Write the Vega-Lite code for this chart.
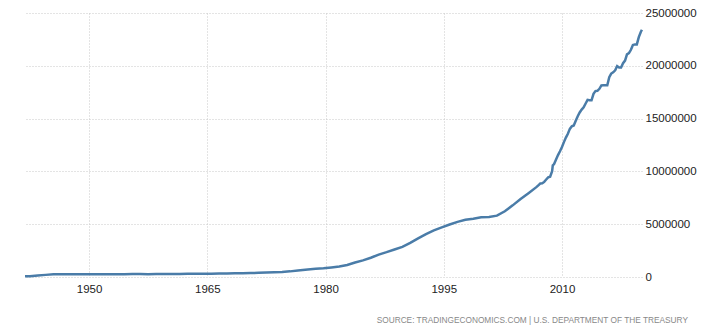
{
  "$schema": "https://vega.github.io/schema/vega-lite/v6.json",
  "width": 617,
  "height": 264,
  "autosize": {"type": "none"},
  "padding": {"left": 25, "top": 13, "right": 68, "bottom": 55},
  "background": "white",
  "config": {
    "view": {"stroke": null},
    "font": "Liberation Sans"
  },
  "title": {
    "text": "SOURCE: TRADINGECONOMICS.COM | U.S. DEPARTMENT OF THE TREASURY",
    "orient": "bottom",
    "anchor": "end",
    "frame": "group",
    "fontSize": 8.3,
    "fontWeight": "normal",
    "color": "#888888",
    "font": "Liberation Sans",
    "offset": 21,
    "dx": 46
  },
  "data": {
    "values": [
      {"date": "1941-11-15", "debt": 60000},
      {"date": "1942-06-30", "debt": 72422},
      {"date": "1943-06-30", "debt": 136696},
      {"date": "1944-06-30", "debt": 201003},
      {"date": "1945-06-30", "debt": 258682},
      {"date": "1946-06-30", "debt": 269422},
      {"date": "1947-06-30", "debt": 258286},
      {"date": "1948-06-30", "debt": 252292},
      {"date": "1949-06-30", "debt": 252770},
      {"date": "1950-06-30", "debt": 257357},
      {"date": "1951-06-30", "debt": 255222},
      {"date": "1952-06-30", "debt": 259105},
      {"date": "1953-06-30", "debt": 266071},
      {"date": "1954-06-30", "debt": 271260},
      {"date": "1955-06-30", "debt": 274374},
      {"date": "1956-06-30", "debt": 272751},
      {"date": "1957-06-30", "debt": 270527},
      {"date": "1958-06-30", "debt": 276343},
      {"date": "1959-06-30", "debt": 284706},
      {"date": "1960-06-30", "debt": 286331},
      {"date": "1961-06-30", "debt": 288971},
      {"date": "1962-06-30", "debt": 298201},
      {"date": "1963-06-30", "debt": 305860},
      {"date": "1964-06-30", "debt": 311713},
      {"date": "1965-06-30", "debt": 317274},
      {"date": "1966-06-30", "debt": 319907},
      {"date": "1967-06-30", "debt": 326221},
      {"date": "1968-06-30", "debt": 347578},
      {"date": "1969-06-30", "debt": 353720},
      {"date": "1970-06-30", "debt": 370919},
      {"date": "1971-06-30", "debt": 398130},
      {"date": "1972-06-30", "debt": 427260},
      {"date": "1973-06-30", "debt": 458142},
      {"date": "1974-06-30", "debt": 475060},
      {"date": "1975-06-30", "debt": 533189},
      {"date": "1976-06-30", "debt": 620433},
      {"date": "1977-09-30", "debt": 698840},
      {"date": "1978-09-30", "debt": 771544},
      {"date": "1979-09-30", "debt": 826519},
      {"date": "1980-09-30", "debt": 907701},
      {"date": "1981-09-30", "debt": 997855},
      {"date": "1982-09-30", "debt": 1142034},
      {"date": "1983-09-30", "debt": 1377210},
      {"date": "1984-09-30", "debt": 1572266},
      {"date": "1985-09-30", "debt": 1823103},
      {"date": "1986-09-30", "debt": 2125302},
      {"date": "1987-09-30", "debt": 2350276},
      {"date": "1988-09-30", "debt": 2602337},
      {"date": "1989-09-30", "debt": 2857431},
      {"date": "1990-09-30", "debt": 3233313},
      {"date": "1991-09-30", "debt": 3665303},
      {"date": "1992-09-30", "debt": 4064621},
      {"date": "1993-09-30", "debt": 4411489},
      {"date": "1994-09-30", "debt": 4692749},
      {"date": "1995-09-30", "debt": 4973983},
      {"date": "1996-09-30", "debt": 5224811},
      {"date": "1997-09-30", "debt": 5413146},
      {"date": "1998-09-30", "debt": 5526193},
      {"date": "1999-09-30", "debt": 5656271},
      {"date": "2000-09-30", "debt": 5674178},
      {"date": "2001-09-30", "debt": 5807463},
      {"date": "2002-09-30", "debt": 6228236},
      {"date": "2003-09-30", "debt": 6783231},
      {"date": "2004-09-30", "debt": 7379053},
      {"date": "2005-09-30", "debt": 7932710},
      {"date": "2006-09-30", "debt": 8506974},
      {"date": "2006-12-31", "debt": 8680224},
      {"date": "2007-03-31", "debt": 8849666},
      {"date": "2007-06-30", "debt": 8867673},
      {"date": "2007-09-30", "debt": 9007653},
      {"date": "2007-12-31", "debt": 9229172},
      {"date": "2008-03-31", "debt": 9437594},
      {"date": "2008-06-30", "debt": 9492006},
      {"date": "2008-09-30", "debt": 10024725},
      {"date": "2008-10-31", "debt": 10574000},
      {"date": "2008-12-31", "debt": 10699805},
      {"date": "2009-03-31", "debt": 11126941},
      {"date": "2009-06-30", "debt": 11545275},
      {"date": "2009-09-30", "debt": 11909829},
      {"date": "2009-12-31", "debt": 12311350},
      {"date": "2010-03-31", "debt": 12773123},
      {"date": "2010-06-30", "debt": 13201790},
      {"date": "2010-09-30", "debt": 13561623},
      {"date": "2010-12-31", "debt": 14025215},
      {"date": "2011-03-31", "debt": 14270114},
      {"date": "2011-06-30", "debt": 14343088},
      {"date": "2011-09-30", "debt": 14790340},
      {"date": "2011-12-31", "debt": 15222940},
      {"date": "2012-03-31", "debt": 15582079},
      {"date": "2012-06-30", "debt": 15855546},
      {"date": "2012-09-30", "debt": 16066241},
      {"date": "2012-12-31", "debt": 16432730},
      {"date": "2013-03-31", "debt": 16771400},
      {"date": "2013-06-30", "debt": 16738184},
      {"date": "2013-09-30", "debt": 16738184},
      {"date": "2013-12-31", "debt": 17351970},
      {"date": "2014-03-31", "debt": 17601228},
      {"date": "2014-06-30", "debt": 17632606},
      {"date": "2014-09-30", "debt": 17824071},
      {"date": "2014-12-31", "debt": 18141444},
      {"date": "2015-03-31", "debt": 18152056},
      {"date": "2015-06-30", "debt": 18151998},
      {"date": "2015-09-30", "debt": 18150618},
      {"date": "2015-12-31", "debt": 18922179},
      {"date": "2016-03-31", "debt": 19264939},
      {"date": "2016-06-30", "debt": 19381591},
      {"date": "2016-09-30", "debt": 19573445},
      {"date": "2016-12-31", "debt": 19976827},
      {"date": "2017-03-31", "debt": 19846420},
      {"date": "2017-06-30", "debt": 19844554},
      {"date": "2017-09-30", "debt": 20244900},
      {"date": "2017-12-31", "debt": 20492874},
      {"date": "2018-03-31", "debt": 21089643},
      {"date": "2018-06-30", "debt": 21195070},
      {"date": "2018-09-30", "debt": 21516058},
      {"date": "2018-12-31", "debt": 21974096},
      {"date": "2019-03-31", "debt": 22027880},
      {"date": "2019-06-30", "debt": 22023283},
      {"date": "2019-09-30", "debt": 22719402},
      {"date": "2019-12-31", "debt": 23201380},
      {"date": "2020-02-20", "debt": 23409000}
    ]
  },
  "mark": {"type": "line", "color": "#4a7ca8", "strokeWidth": 2.5, "interpolate": "linear"},
  "encoding": {
    "x": {
      "field": "date",
      "type": "temporal",
      "scale": {"domain": ["1941-11-15", "2020-02-25"], "nice": false},
      "axis": {
        "title": null,
        "values": [{"year": 1950}, {"year": 1965}, {"year": 1980}, {"year": 1995}, {"year": 2010}],
        "format": "%Y",
        "domain": false,
        "ticks": false,
        "labelPadding": 6,
        "labelFont": "Liberation Sans",
        "labelFontSize": 11.5,
        "labelColor": "#222222",
        "grid": true,
        "gridColor": "#c8c8c8",
        "gridDash": [1, 2],
        "gridWidth": 1
      }
    },
    "y": {
      "field": "debt",
      "type": "quantitative",
      "scale": {"domain": [0, 25000000], "nice": false},
      "axis": {
        "title": null,
        "orient": "right",
        "values": [0, 5000000, 10000000, 15000000, 20000000, 25000000],
        "format": "d",
        "domain": false,
        "ticks": false,
        "labelPadding": 3,
        "labelFont": "Liberation Sans",
        "labelFontSize": 11.5,
        "labelColor": "#222222",
        "grid": true,
        "gridColor": "#c8c8c8",
        "gridDash": [1, 2],
        "gridWidth": 1
      }
    }
  }
}
